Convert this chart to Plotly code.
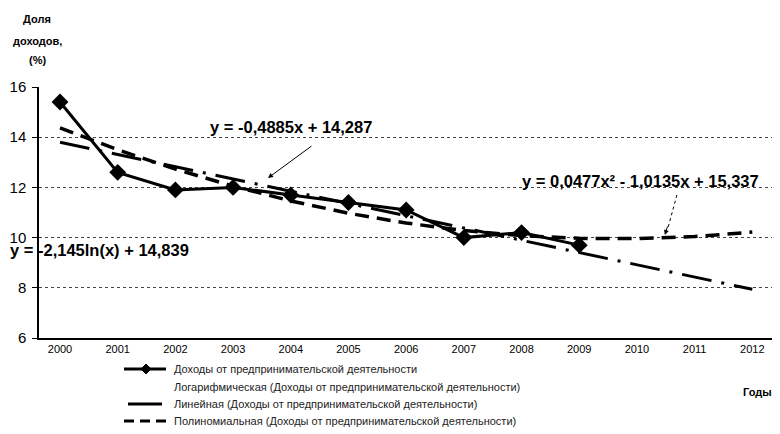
import plotly.graph_objects as go

years = ["2000", "2001", "2002", "2003", "2004", "2005", "2006",
         "2007", "2008", "2009", "2010", "2011", "2012"]
x_idx = list(range(len(years)))

# Actual data (2000-2009)
income_share = [15.4, 12.6, 11.9, 12.0, 11.7, 11.4, 11.1, 10.0, 10.2, 9.7]

# Trend lines (values at each year)
linear_trend = [13.80, 13.31, 12.82, 12.33, 11.84, 11.36, 10.87,
                10.38, 9.89, 9.40, 8.91, 8.42, 7.94]
poly_trend = [14.37, 13.50, 12.73, 12.05, 11.46, 10.97, 10.58,
              10.28, 10.08, 9.97, 9.96, 10.04, 10.22]
log_trend = [14.84, 13.35, 12.48, 11.87, 11.39, 11.00, 10.66,
             10.38, 10.13, 9.90, 9.70, 9.51, 9.34]

series_names = [
    "Доходы от предпринимательской деятельности",
    "Логарифмическая (Доходы от предпринимательской деятельности)",
    "Линейная (Доходы от предпринимательской деятельности)",
    "Полиномиальная (Доходы от предпринимательской деятельности)",
]

y_ticks = [6, 8, 10, 12, 14, 16]

FONT = "Liberation Sans"

LINEAR_DASH = "30px,10px,3px,10px"
POLY_DASH = "14px,8px"

fig = go.Figure()

fig.add_trace(go.Scatter(
    x=x_idx[:len(income_share)], y=income_share, mode="lines+markers",
    name=series_names[0],
    line=dict(color="black", width=3),
    marker=dict(symbol="diamond", size=13, color="black"),
))
fig.add_trace(go.Scatter(
    x=x_idx, y=log_trend, mode="lines", name=series_names[1],
    line=dict(color="rgba(0,0,0,0)", width=2),
))
fig.add_trace(go.Scatter(
    x=x_idx, y=linear_trend, mode="lines", name=series_names[2],
    line=dict(color="black", width=3, dash=LINEAR_DASH),
))
fig.add_trace(go.Scatter(
    x=x_idx, y=poly_trend, mode="lines", name=series_names[3],
    line=dict(color="black", width=3.5, dash=POLY_DASH),
))

# Page body has an 8px margin; plot area in page pixels: x 39..780, y 87..338
W, H = 772, 426

def px_to_x(px):
    return (px - 60) / 57.7

def py_to_y(py):
    return 16 - (py - 87) / 25.1

def ppx(px):
    return (px - 39) / 741

def ppy(py):
    return (338 - py) / 251

ann = []
for txt, yy in [("<b>Доля</b>", 19), ("<b>доходов,</b>", 41), ("<b>(%)</b>", 60)]:
    ann.append(dict(text=txt, xref="paper", yref="paper", x=ppx(37), y=ppy(yy),
                    xanchor="center", yanchor="middle", showarrow=False,
                    font=dict(family=FONT, size=11, color="black")))

EQ = 16.5
ann.append(dict(text="<b>y = -0,4885x + 14,287</b>", x=px_to_x(291), y=py_to_y(127),
                xref="x", yref="y", showarrow=False,
                font=dict(family=FONT, size=EQ, color="black")))
ann.append(dict(text="", x=px_to_x(268), y=py_to_y(178), xref="x", yref="y",
                ax=45, ay=-33, showarrow=True, arrowhead=2, arrowsize=1,
                arrowwidth=1, arrowcolor="black"))
ann.append(dict(text="<b>y = 0,0477x² - 1,0135x + 15,337</b>", x=px_to_x(641), y=py_to_y(181),
                xref="x", yref="y", showarrow=False,
                font=dict(family=FONT, size=EQ, color="black")))
ann.append(dict(text="", x=px_to_x(665), y=py_to_y(235), xref="x", yref="y",
                ax=3, ay=-10, showarrow=True, arrowhead=2, arrowsize=1,
                arrowwidth=1, arrowcolor="black"))
ann.append(dict(text="<b>y = -2,145ln(x) + 14,839</b>", xref="paper", yref="y",
                x=ppx(8), y=py_to_y(250), xanchor="left", showarrow=False,
                font=dict(family=FONT, size=EQ, color="black")))
ann.append(dict(text="<b>Годы</b>", xref="paper", yref="paper",
                x=ppx(757), y=ppy(392), xanchor="center",
                yanchor="middle", showarrow=False,
                font=dict(family=FONT, size=11, color="black")))

shapes = [dict(type="line", xref="x", yref="y",
               x0=px_to_x(677), y0=py_to_y(195), x1=px_to_x(668), y1=py_to_y(228),
               line=dict(color="black", width=1, dash="dot"))]

# Manual legend (rows in page pixels)
legend_rows_y = [369, 387, 404, 421]
legend_text_x = 172
for name, ry in zip(series_names, legend_rows_y):
    ann.append(dict(text=name, xref="paper", yref="paper",
                    x=ppx(legend_text_x), y=ppy(ry), xanchor="left", yanchor="middle",
                    showarrow=False, font=dict(family=FONT, size=11, color="#222")))

# sample: data series (line + diamond)
ry = legend_rows_y[0]
shapes.append(dict(type="line", xref="paper", yref="paper",
                   x0=ppx(124), x1=ppx(166), y0=ppy(ry), y1=ppy(ry),
                   line=dict(color="black", width=3)))
cx = 146
shapes.append(dict(type="path", xref="paper", yref="paper",
                   path=(f"M {ppx(cx)},{ppy(ry - 5)} L {ppx(cx + 5)},{ppy(ry)} "
                         f"L {ppx(cx)},{ppy(ry + 5)} L {ppx(cx - 5)},{ppy(ry)} Z"),
                   fillcolor="black", line=dict(color="black", width=1)))
# sample: linear trend
ry = legend_rows_y[2]
shapes.append(dict(type="line", xref="paper", yref="paper",
                   x0=ppx(128), x1=ppx(162), y0=ppy(ry), y1=ppy(ry),
                   line=dict(color="black", width=3)))
# sample: polynomial trend
ry = legend_rows_y[3]
shapes.append(dict(type="line", xref="paper", yref="paper",
                   x0=ppx(124), x1=ppx(166), y0=ppy(ry), y1=ppy(ry),
                   line=dict(color="black", width=3, dash="10px,6px")))

fig.update_layout(
    width=W, height=H,
    margin=dict(l=31, r=0, t=79, b=96, autoexpand=False),
    paper_bgcolor="white", plot_bgcolor="white",
    font=dict(family=FONT, color="black"),
    showlegend=False,
    annotations=ann,
    shapes=shapes,
    xaxis=dict(range=[-0.364, 12.48], tickvals=x_idx, ticktext=years,
               showgrid=False, zeroline=False, showline=True,
               linecolor="black", linewidth=2, ticks="",
               tickfont=dict(family=FONT, size=11, color="black")),
    yaxis=dict(range=[6, 16], tickvals=y_ticks, showgrid=True,
               gridcolor="#444", griddash="dot", gridwidth=1,
               zeroline=False, showline=True, linecolor="black", linewidth=1.5,
               ticks="outside", ticklen=5, tickcolor="black", ticklabelstandoff=3,
               tickfont=dict(family=FONT, size=15, color="black")),
)

fig.write_html("out.html")
